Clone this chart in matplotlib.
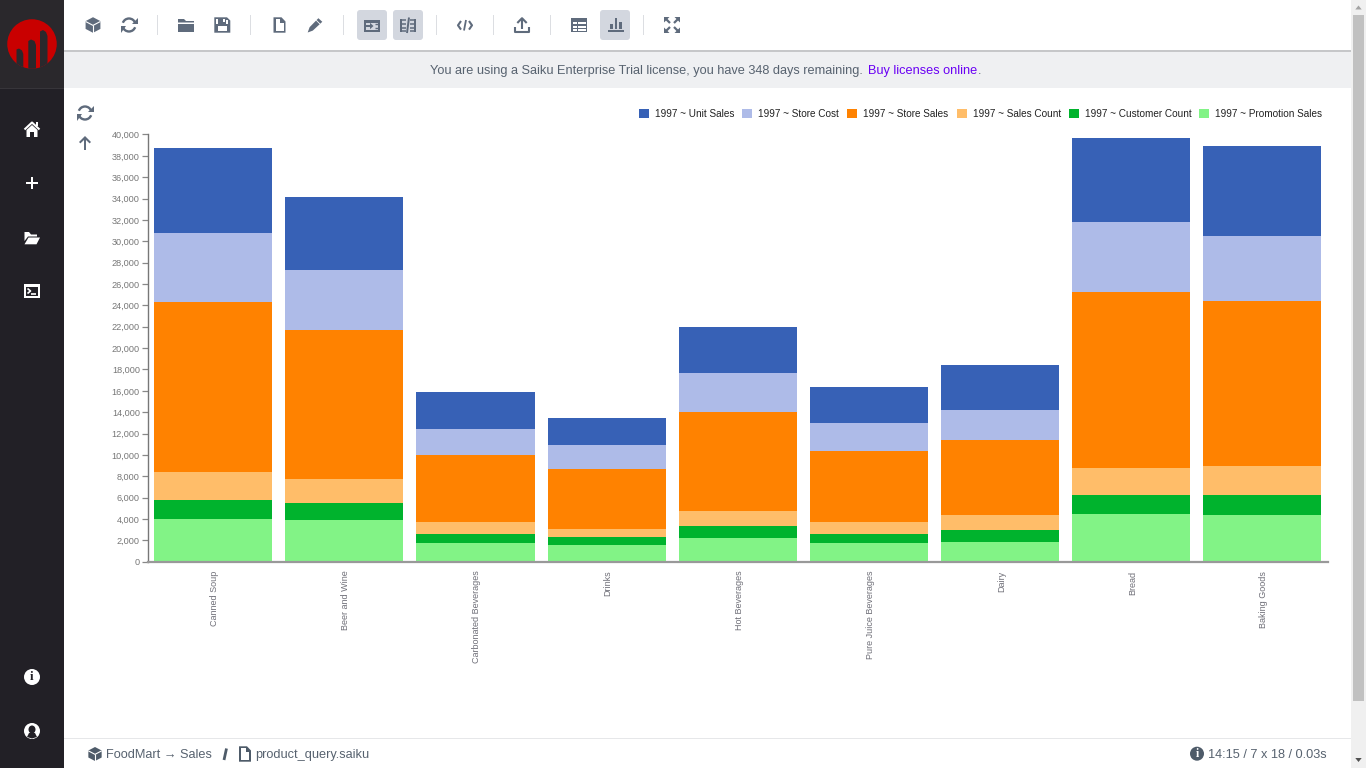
import numpy as np
import matplotlib
matplotlib.use("Agg")
import matplotlib.pyplot as plt
from matplotlib.patches import Rectangle, Circle, Ellipse, Polygon, FancyBboxPatch, Arc
from matplotlib.transforms import ScaledTranslation

plt.rcParams['font.family'] = ['Liberation Sans', 'DejaVu Sans']

# chart data
categories = ['Canned Soup', 'Beer and Wine', 'Carbonated Beverages', 'Drinks', 'Hot Beverages',
              'Pure Juice Beverages', 'Dairy', 'Bread', 'Baking Goods']
promotion_sales = [3980, 3890, 1730, 1545, 2200, 1730, 1825, 4450, 4356]
customer_count = [1780, 1590, 840, 750, 1125, 845, 1125, 1780, 1874]
sales_count = [2620, 2250, 1130, 750, 1405, 1125, 1405, 2530, 2716]
store_sales = [15930, 13960, 6280, 5620, 9275, 6650, 7025, 16486, 15457]
store_cost = [6460, 5620, 2435, 2250, 3650, 2625, 2810, 6557, 6089]
unit_sales = [7960, 6835, 3465, 2530, 4310, 3375, 4215, 7869, 8431]
y_ticks = list(range(0, 40001, 2000))

# bottom to top
series = [('1997 ~ Promotion Sales', promotion_sales, '#82f386'),
          ('1997 ~ Customer Count', customer_count, '#00b32d'),
          ('1997 ~ Sales Count', sales_count, '#ffbd69'),
          ('1997 ~ Store Sales', store_sales, '#ff8200'),
          ('1997 ~ Store Cost', store_cost, '#aebbe8'),
          ('1997 ~ Unit Sales', unit_sales, '#3761b6')]

W, H = 1366, 768
fig = plt.figure(figsize=(W / 100, H / 100), dpi=100, facecolor='white')

# page furniture, drawn in pixel coordinates
ui = fig.add_axes([0, 0, 1, 1], zorder=1)
ui.set_xlim(0, W)
ui.set_ylim(H, 0)
ui.axis('off')

ICON = '#5f6b7c'
DARK = '#222026'
TOP = '#2a282c'
BTN = '#d3d7df'
TEXT = '#57626f'


def rect(x, y, w, h, c, **kw):
    ui.add_patch(Rectangle((x, y), w, h, facecolor=c, edgecolor='none', **kw))


def poly(pts, c, **kw):
    p = Polygon(pts, closed=True, facecolor=c, edgecolor='none', **kw)
    ui.add_patch(p)
    return p


def line(xs, ys, c, lw=1.5, **kw):
    ui.plot(xs, ys, color=c, lw=lw, solid_capstyle='butt', **kw)


def refresh_icon(cx, cy, r, c):
    ui.add_patch(Arc((cx, cy), 2 * r, 2 * r, theta1=200, theta2=340, color=c, lw=1.7))
    ui.add_patch(Arc((cx, cy), 2 * r, 2 * r, theta1=20, theta2=160, color=c, lw=1.7))
    poly([(cx + r + 2, cy - r - 1), (cx + r + 2, cy - 1), (cx + 3, cy - 1)], c)
    poly([(cx - r - 2, cy + r + 1), (cx - r - 2, cy + 1), (cx - 3, cy + 1)], c)


def cube_icon(cx, cy, s, c, bg='white'):
    poly([(cx, cy - s), (cx + s * 0.95, cy - s * 0.5), (cx + s * 0.95, cy + s * 0.5),
          (cx, cy + s), (cx - s * 0.95, cy + s * 0.5), (cx - s * 0.95, cy - s * 0.5)], c)
    line([cx - s * 0.95, cx, cx + s * 0.95], [cy - s * 0.45, cy + s * 0.05, cy - s * 0.45], bg, 0.8)
    line([cx, cx], [cy + s * 0.05, cy + s], bg, 0.8)


def folder_icon(cx, cy, c):
    poly([(cx - 8, cy - 6), (cx - 2, cy - 6), (cx, cy - 4), (cx + 8, cy - 4), (cx + 8, cy - 2.5), (cx - 8, cy - 2.5)], c)
    rect(cx - 8, cy - 1.5, 16, 8, c)


def doc_icon(cx, cy, c):
    poly([(cx - 6, cy - 7.7), (cx + 2, cy - 7.7), (cx + 6, cy - 3.5), (cx + 6, cy + 7.7), (cx - 6, cy + 7.7)], c)
    poly([(cx - 4, cy - 5.8), (cx + 0.8, cy - 5.8), (cx + 0.8, cy - 2.2), (cx + 4, cy - 2.2), (cx + 4, cy + 5.8), (cx - 4, cy + 5.8)], 'white')


# sidebar
rect(0, 0, 64, H, DARK)
rect(0, 0, 64, 88, TOP)
rect(0, 88, 64, 1, '#37353a')
# logo: red disc with three towers cut out of it
logo = Ellipse((32, 44), 49.5, 49.5, facecolor='#c90000', edgecolor='none')
ui.add_patch(logo)
for pts in [[(16.5, 49.5), (19, 48.5), (22, 50.5), (23.3, 54), (23.3, 80), (16.5, 80)],
            [(28.3, 41), (31, 39.5), (34.5, 41), (36, 45), (36, 80), (28.3, 80)],
            [(40, 31.5), (43, 30), (46, 32), (47.5, 36), (47.5, 80), (40, 80)]]:
    poly(pts, TOP, clip_path=logo)
# sidebar icons
line([24.5, 32, 39.5], [129.5, 122.5, 129.5], 'white', 1.5)
rect(36, 122, 2, 3.5, 'white')
poly([(26.5, 130), (32, 125), (37.5, 130), (37.5, 137), (34, 137), (34, 132), (30, 132), (30, 137), (26.5, 137)], 'white')
rect(26, 182.3, 12, 2, 'white')
rect(31, 177.3, 2, 12, 'white')
poly([(24.5, 232), (29, 232), (31, 234.5), (37, 234.5), (37, 236.5), (28, 236.5), (24.5, 241)], 'white')
poly([(28.5, 237.5), (40, 237.5), (36.5, 244.3), (24.5, 244.3)], 'white')
rect(24, 284, 16, 14, 'white')
rect(26, 287, 12, 9, DARK)
line([27.5, 30.5, 27.5], [288.5, 291, 293.5], 'white', 1.2)
line([31, 36], [294, 294], 'white', 1.2)
ui.add_patch(Circle((32, 677), 8, facecolor='white', edgecolor='none'))
ui.text(32, 677.5, 'i', color=DARK, fontsize=9.5, fontweight='bold', family='Liberation Serif', ha='center', va='center')
ui.add_patch(Circle((32, 731), 8, facecolor='white', edgecolor='none'))
ui.add_patch(Ellipse((32, 729.5), 7, 8, facecolor=DARK, edgecolor='none'))
poly([(27, 737), (29, 733), (35, 733), (37, 737), (32, 738.5)], DARK)

# toolbar
for x in [157, 250, 343, 436, 493, 550, 643]:
    rect(x, 15, 1, 20, '#dcdee2')
for x in [357, 393, 600]:
    ui.add_patch(FancyBboxPatch((x, 10), 30, 30, boxstyle='round,pad=0,rounding_size=3', facecolor=BTN, edgecolor='none'))
rect(64, 50, 1287, 1.5, '#c6c7c9')
cube_icon(93, 25, 7.8, ICON)
refresh_icon(129, 25, 6.5, ICON)
folder_icon(186, 25, ICON)
# save
poly([(214.3, 17.3), (227, 17.3), (230.3, 20.5), (230.3, 32.7), (214.3, 32.7)], ICON)
rect(218, 25.5, 8.5, 5.3, 'white')
rect(216.2, 19.2, 1.8, 4.8, 'white')
rect(226.2, 20, 2.2, 4, 'white')
rect(222.6, 18.8, 1.9, 3.6, 'white')
doc_icon(279.5, 25, ICON)
# pencil
poly([(307.7, 32.5), (309.6, 27.2), (318.4, 18.2), (322.3, 21.8), (312.8, 30.6)], ICON)
line([316.2, 320], [20.2, 24], 'white', 0.6)
# split-view buttons
rect(364, 20, 16, 12, ICON)
rect(366, 22.5, 12, 7.2, BTN)
rect(364, 25.2, 8, 1.6, ICON)
poly([(370, 22.8), (373.5, 26), (370, 29.2)], ICON)
line([375, 378], [24, 24], ICON, 1)
line([375, 378], [28, 28], ICON, 1)
for xv, xa, xb in [(400, 400, 405.8), (414.2, 410.2, 416)]:
    rect(xv, 19, 1.8, 13, ICON)
    for yy in (20, 24, 28, 31.2):
        line([xa, xb], [yy, yy], ICON, 1.1)
line([407, 409], [33, 17.5], ICON, 1.4)
# code
line([461, 458, 461], [21, 25.3, 29.6], ICON, 1.5)
line([469, 472, 469], [21, 25.3, 29.6], ICON, 1.5)
line([464, 466], [30.5, 20], ICON, 1.3)
# upload
line([522, 522], [19, 29], ICON, 1.5)
line([517.3, 522, 526.7], [23, 18.2, 23], ICON, 1.5)
line([514.8, 514.8, 529.2, 529.2], [27, 32.3, 32.3, 27], ICON, 1.5)
# table
rect(571, 18.3, 16, 13.4, ICON)
for yy in (22.2, 25.5, 28.7):
    rect(572.5, yy, 4.2, 2.1, 'white')
    rect(578, yy, 7.5, 2.1, 'white')
# bar chart
rect(608, 30, 15.5, 1.8, ICON)
for xx, top in [(610, 23.5), (614.6, 18), (619.2, 22)]:
    rect(xx, top, 2.6, 28.5 - top, ICON)
# fullscreen
for sx, sy in [(-1, -1), (1, -1), (-1, 1), (1, 1)]:
    cx, cy = 672 + sx * 8, 25 + sy * 8
    poly([(cx, cy), (cx - sx * 5.5, cy), (cx, cy - sy * 5.5)], ICON)
    line([cx - sx * 2, cx - sx * 6], [cy - sy * 2, cy - sy * 6], ICON, 1.6)

# licence banner
rect(64, 51.5, 1287, 36.5, '#eff0f2')
ui.text(430, 71, 'You are using a Saiku Enterprise Trial license, you have 348 days remaining.',
        fontsize=9.2, color=TEXT, ha='left', va='center')
ui.text(868, 71, 'Buy licenses online', fontsize=9.2, color='#6a00f4', ha='left', va='center')
ui.text(978, 71, '.', fontsize=9.2, color=TEXT, ha='left', va='center')

# chart side buttons
refresh_icon(85, 113, 6.5, ICON)
poly([(85, 136), (91, 142), (89.6, 143.4), (86, 140), (86, 150), (84, 150), (84, 140), (80.4, 143.4), (79, 142)], ICON)

# legend, same order as the original (top segment first)
legend_x = [639, 742, 847, 957, 1069, 1199]
for x, (label, _, col) in zip(legend_x, series[::-1]):
    rect(x, 109, 9.5, 9, col)
    ui.text(x + 16, 113.7, label, fontsize=7.2, color='#222222', ha='left', va='center')

# footer
rect(64, 738, 1287, 1, '#e6e7e9')
cube_icon(95, 754, 7, '#4e5b69')
ui.text(105.5, 755, 'FoodMart → Sales', fontsize=9.2, color=TEXT, ha='left', va='center')
line([224, 226.5], [760, 748.5], '#4e5b69', 2)
doc_icon(245, 754, '#4e5b69')
ui.text(255.5, 755, 'product_query.saiku', fontsize=9.2, color=TEXT, ha='left', va='center')
ui.add_patch(Circle((1197, 753.7), 7, facecolor='#4e5b69', edgecolor='none'))
ui.text(1197, 754.2, 'i', color='white', fontsize=8.5, fontweight='bold', family='Liberation Serif', ha='center', va='center')
ui.text(1207.5, 755, '14:15 / 7 x 18 / 0.03s', fontsize=9.15, color=TEXT, ha='left', va='center')

# scrollbar
rect(1351, 0, 15, H, '#f0f0f0')
rect(1353, 15, 11, 685.5, '#c1c1c1')
poly([(1358.5, 5.5), (1361.7, 9.5), (1355.3, 9.5)], '#a3a3a3')
poly([(1358.5, 762), (1361.7, 758), (1355.3, 758)], '#505050')

# stacked bars
ax = fig.add_axes([147.6 / W, (H - 561.7) / H, 1180.4 / W, 427.2 / H], zorder=2)
ax.patch.set_alpha(0)
x_pos = np.arange(len(categories))
bottom = np.zeros(len(categories))
for label, values, col in series:
    ax.bar(x_pos, values, width=0.9, bottom=bottom, color=col, label=label, linewidth=0)
    bottom += np.array(values)

ax.set_xlim(-0.5, len(categories) - 0.5)
ax.set_ylim(0, 40000)
ax.set_yticks(y_ticks)
ax.set_yticklabels([f'{v:,}' for v in y_ticks], fontsize=6.6, color='#777777')
ax.set_xticks(x_pos)
ax.set_xticklabels(categories, rotation=90, fontsize=6.45, color='#6f6f78', va='top', ha='center')
ax.tick_params(axis='y', length=4.3, width=0.9, color='#888888', pad=1.2)
ax.tick_params(axis='x', length=0, pad=6.5)
# the labels sit a pixel right of the bar centres in the original
nudge = ScaledTranslation(1.2 / 100, 0, fig.dpi_scale_trans)
for lab in ax.get_xticklabels():
    lab.set_transform(lab.get_transform() + nudge)
for side in ['top', 'right']:
    ax.spines[side].set_visible(False)
ax.spines['left'].set_color('#777777')
ax.spines['left'].set_linewidth(1.0)
ax.spines['bottom'].set_color('#999999')
ax.spines['bottom'].set_linewidth(1.6)

fig.savefig('out.png', dpi=100)
